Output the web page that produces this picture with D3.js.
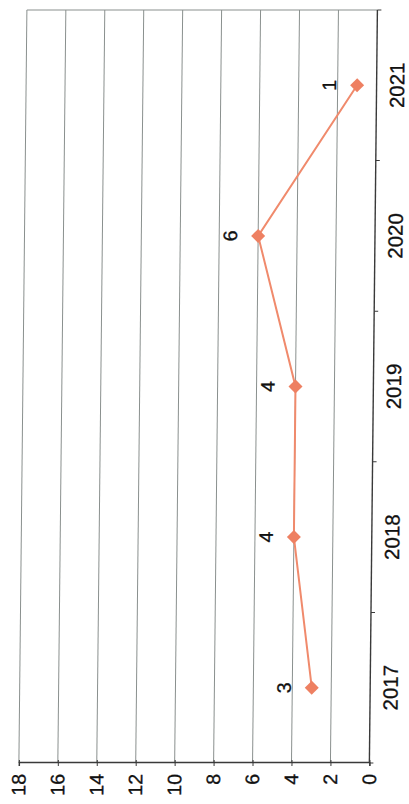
<!DOCTYPE html>
<html>
<head>
<meta charset="utf-8">
<script src="https://cdn.jsdelivr.net/npm/d3@7"></script>
<style>
  html, body { margin: 0; padding: 0; background: #fff; }
  svg { display: block; }
  text { font-family: "Liberation Sans", Arial, sans-serif; fill: #111; }
</style>
</head>
<body>
<svg id="chart" width="409" height="804"></svg>
<script>
// ---- data ----
const years = ["2017", "2018", "2019", "2020", "2021"];
const values = [3, 4, 4, 6, 1];
const valueTicks = [0, 2, 4, 6, 8, 10, 12, 14, 16, 18];

// ---- layout (chart is drawn in unrotated frame, then rotated -90deg) ----
const W = 753;   // category extent
const H = 350.5; // value extent
const svg = d3.select("#chart");
svg.append("rect").attr("width", 409).attr("height", 804).attr("fill", "#fff");

const outer = svg.append("g").attr("transform", "skewX(-0.61)");
const g = outer.append("g").attr("transform", "translate(27,763) rotate(-90)");

const x = d3.scaleBand().domain(years).range([0, W]).paddingInner(0).paddingOuter(0);
const cx = d => x(d) + x.bandwidth() / 2;
const y = d3.scaleLinear().domain([0, 18]).range([H, 0]);

// gridlines
g.append("g").selectAll("line")
  .data(valueTicks.filter(v => v > 0))
  .join("line")
  .attr("x1", 0).attr("x2", W)
  .attr("y1", d => y(d)).attr("y2", d => y(d))
  .attr("stroke", "#8a908e").attr("stroke-width", 1);

// plot border (far end)
g.append("line").attr("x1", W).attr("x2", W).attr("y1", 0).attr("y2", H)
  .attr("stroke", "#8a908e").attr("stroke-width", 1.2);

// value axis
const yAxis = g.append("g").call(
  d3.axisLeft(y).tickValues(valueTicks).tickSize(3).tickPadding(8).tickFormat(d3.format("d"))
);
yAxis.select(".domain").attr("stroke", "#3a3a3a").attr("stroke-width", 1.4);
yAxis.selectAll(".tick line").attr("x1", -3).attr("x2", 3).attr("stroke", "#3a3a3a");
yAxis.selectAll(".tick text")
  .attr("font-size", 19.5)
  .attr("font-family", "Liberation Sans, Arial, sans-serif")
  .attr("fill", "#111")
  .attr("stroke", "#111").attr("stroke-width", 0.3);

// category axis
const xAxisG = g.append("g").attr("transform", `translate(0,${H})`);
xAxisG.append("line").attr("x1", 0).attr("x2", W).attr("y1", 0).attr("y2", 0)
  .attr("stroke", "#3a3a3a").attr("stroke-width", 1.4);
const boundaries = years.map(d => x(d)).concat([W]);
xAxisG.selectAll("line.tk").data(boundaries).join("line").attr("class", "tk")
  .attr("x1", d => d).attr("x2", d => d).attr("y1", 0).attr("y2", 4)
  .attr("stroke", "#3a3a3a");
xAxisG.selectAll("text").data(years).join("text")
  .attr("x", d => cx(d)).attr("y", 13).attr("dy", "0.71em")
  .attr("text-anchor", "middle").attr("font-size", 20.5)
  .attr("stroke", "#111").attr("stroke-width", 0.3)
  .text(d => d);

// series line
const pts = years.map((d, i) => ({ year: d, v: values[i] }));
g.append("path").datum(pts)
  .attr("fill", "none").attr("stroke", "#f08a6c").attr("stroke-width", 2)
  .attr("d", d3.line().x(d => cx(d.year)).y(d => y(d.v)));

// markers (diamonds)
g.selectAll("path.mk").data(pts).join("path").attr("class", "mk")
  .attr("transform", d => `translate(${cx(d.year)},${y(d.v)})`)
  .attr("d", "M0,-7L7,0L0,7L-7,0Z")
  .attr("fill", "#ee8062");

// data labels
g.selectAll("text.lbl").data(pts).join("text").attr("class", "lbl")
  .attr("x", d => cx(d.year)).attr("y", d => y(d.v) - 21)
  .attr("text-anchor", "middle").attr("font-size", 19.5)
  .attr("stroke", "#111").attr("stroke-width", 0.3)
  .text(d => d.v);
</script>
</body>
</html>
